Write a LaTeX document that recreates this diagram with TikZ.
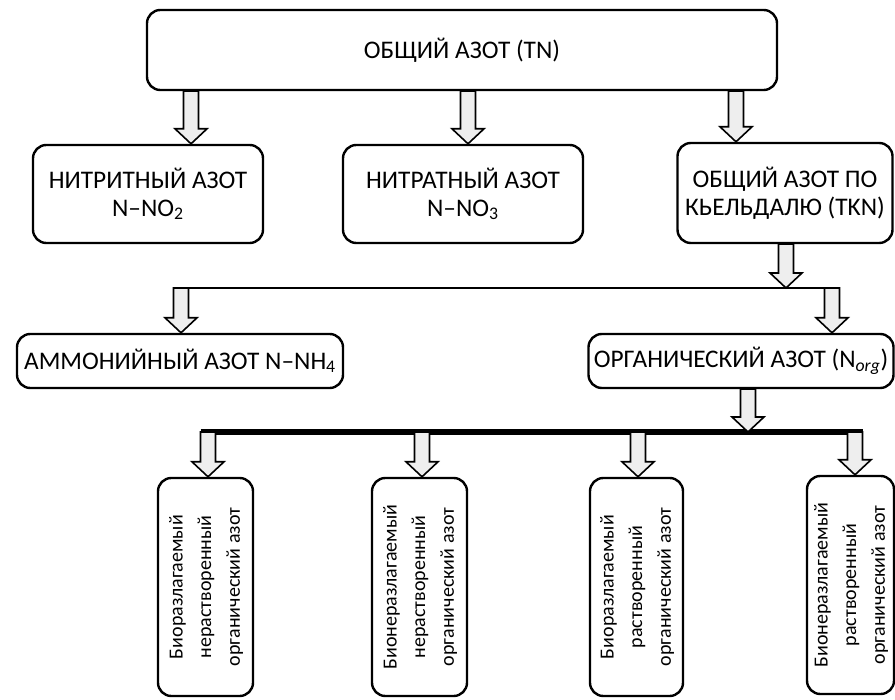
\documentclass[tikz,border=0pt]{standalone}
\usepackage{fontspec}
\setmainfont{Carlito}
\usetikzlibrary{calc}
\newlength{\unitpx}
\setlength{\unitpx}{0.75pt}
\definecolor{arrowgray}{HTML}{EEEEEE}
\tikzset{
  box/.style={draw, line width=1.8pt, rounded corners=10pt, fill=white,
    align=center, inner sep=0pt, font=\fontsize{19}{21}\selectfont},
  fatarrow/.style={draw, line width=1.2pt, fill=arrowgray, line join=miter},
  bus/.style={line width=2.2pt},
  thickbus/.style={line width=3.8pt},
}
% hollow block arrow pointing down, from #1 to the tip at #2
\newcommand{\downarr}[2]{%
  \path[fatarrow] let \p1=(#1), \p2=(#2) in
    (\x1-7.5\unitpx,\y1) -- (\x1+7.5\unitpx,\y1) -- (\x1+7.5\unitpx,\y2+15\unitpx)
    -- (\x1+16\unitpx,\y2+15\unitpx) -- (\x1,\y2) -- (\x1-16\unitpx,\y2+15\unitpx)
    -- (\x1-7.5\unitpx,\y2+15\unitpx) -- cycle;}
\newcommand{\vtext}[3]{\rotatebox{90}{\fontsize{15}{21.5}\selectfont
  \begin{tabular}{@{}c@{}}#1\\#2\\#3\end{tabular}}}
\begin{document}
\begin{tikzpicture}[x=\unitpx, y=\unitpx]
  \useasboundingbox (0,0) rectangle (895,699);
  % top level
  \node[box, minimum width=630\unitpx, minimum height=80\unitpx] (tn) at (462,649) {ОБЩИЙ АЗОТ (TN)};
  % second row
  \node[box, minimum width=230\unitpx, minimum height=98\unitpx] (nitrite) at (148,505) {НИТРИТНЫЙ АЗОТ\\N–NO\textsubscript{2}};
  \node[box, minimum width=240\unitpx, minimum height=98\unitpx] (nitrate) at (463,505) {НИТРАТНЫЙ АЗОТ\\N–NO\textsubscript{3}};
  \node[box, minimum width=215\unitpx, minimum height=100\unitpx] (tkn) at (785,506) {ОБЩИЙ АЗОТ ПО\\КЬЕЛЬДАЛЮ (TKN)};
  % third row
  \node[box, minimum width=326\unitpx, minimum height=54\unitpx] (ammonium) at (180,338) {АММОНИЙНЫЙ АЗОТ N–NH\textsubscript{4}};
  \node[box, minimum width=305\unitpx, minimum height=54\unitpx] (org) at (741,338) {ОРГАНИЧЕСКИЙ АЗОТ (N\textsubscript{\textit{org}})};
  % bottom row
  \node[box, minimum width=95\unitpx, minimum height=218\unitpx] (bdn) at (205.5,112) {\vtext{Биоразлагаемый}{нерастворенный}{органический азот}};
  \node[box, minimum width=95\unitpx, minimum height=218\unitpx] (ndn) at (419.5,112) {\vtext{Бионеразлагаемый}{нерастворенный}{органический азот}};
  \node[box, minimum width=93\unitpx, minimum height=218\unitpx] (bdd) at (636.5,112) {\vtext{Биоразлагаемый}{растворенный}{органический азот}};
  \node[box, minimum width=87\unitpx, minimum height=218\unitpx] (ndd) at (850.5,114) {\vtext{Бионеразлагаемый}{растворенный}{органический азот}};

  % arrow columns
  \coordinate (c1) at (191,610);
  \coordinate (c2) at (468,610);
  \coordinate (c3) at (736,610);
  \coordinate (j0) at (786,411);
  \coordinate (j1) at (181,411);
  \coordinate (j2) at (832,411);
  \coordinate (k0) at (748,267);
  \coordinate (k1) at (208,267);
  \coordinate (k2) at (422,267);
  \coordinate (k3) at (638,267);
  \coordinate (k4) at (855,267);

  \downarr{tn.south -| c1}{nitrite.north -| c1}
  \downarr{tn.south -| c2}{nitrate.north -| c2}
  \downarr{tn.south -| c3}{tkn.north -| c3}

  \draw[bus] ($(j1)+(-7.5,0)$) -- ($(j2)+(7.5,0)$);
  \downarr{tkn.south -| j0}{j0}
  \downarr{j1}{ammonium.north -| j1}
  \downarr{j2}{org.north -| j2}

  \draw[thickbus] ($(k1)+(-7.5,0)$) -- ($(k4)+(7.5,0)$);
  \downarr{org.south -| k0}{k0}
  \downarr{k1}{bdn.north -| k1}
  \downarr{k2}{ndn.north -| k2}
  \downarr{k3}{bdd.north -| k3}
  \downarr{k4}{ndd.north -| k4}
\end{tikzpicture}
\end{document}
